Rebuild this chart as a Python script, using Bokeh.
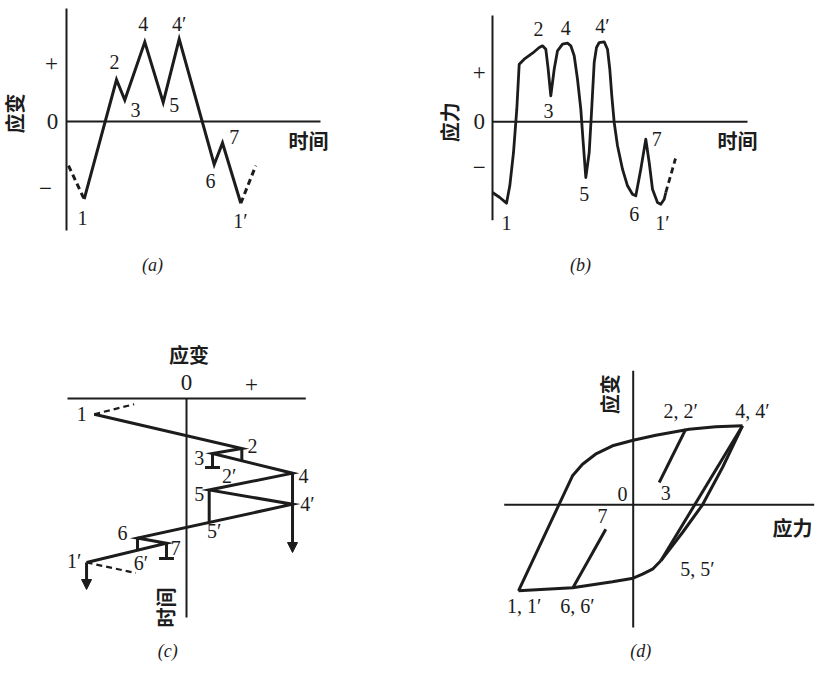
import math
from bokeh.plotting import figure
from bokeh.layouts import column, row
from bokeh.models import Range1d, Arrow, NormalHead
from bokeh.core.properties import value
from bokeh.embed import file_html
from bokeh.resources import INLINE

INK = "#1c1c1c"
SERIF = "Liberation Serif"
CJK = "Noto Sans CJK SC"

# ---------------- (a) strain - time history ----------------
A_TIME = [1.77, 5.0, 5.83, 7.83, 9.67, 11.27, 14.77, 15.6, 17.43]
A_STRAIN = [-1.34, 0.72, 0.37, 1.37, 0.33, 1.42, -0.74, -0.37, -1.41]
A_DASH1_T, A_DASH1_S = [0.2, 1.77], [-0.76, -1.34]
A_DASH2_T, A_DASH2_S = [17.43, 18.93], [-1.41, -0.76]
A_PT_LABELS = ["1", "2", "3", "4", "5", "4′", "6", "7", "1′"]
A_PT_T = [1.6, 4.8, 6.9, 7.67, 10.77, 11.27, 14.4, 16.77, 17.4]
A_PT_S = [-1.66, 1.02, 0.19, 1.68, 0.28, 1.68, -1.02, -0.26, -1.71]
A_TICKS = ["+", "0", "−"]
A_TICK_T = [-1.5, -1.4, -2.1]
A_TICK_S = [1.0, 0.0, -1.16]

# ---------------- (b) stress - time history ----------------
B_TIME = [0, 0.73, 1.4, 1.73, 2.1, 2.43, 2.67, 3.17, 4.0, 4.67, 5.0, 5.33, 5.55,
          5.83, 6.17, 6.5, 7.0, 7.5, 7.83, 8.17, 8.5, 8.83, 9.07, 9.33, 9.67, 9.9,
          10.17, 10.4, 10.67, 11.17, 11.5, 11.73, 11.93, 12.17, 12.5, 13.0, 13.5,
          14.0, 14.33, 14.83, 15.33, 15.67, 16.0, 16.5, 16.83, 17.17, 17.33]
B_STRESS = [-1.443, -1.545, -1.661, -1.306, -0.627, 0.257, 1.176, 1.278, 1.4,
            1.516, 1.551, 1.482, 1.108, 0.531, 1.073, 1.449, 1.584, 1.604, 1.551,
            1.347, 0.869, 0.257, -0.422, -1.137, -0.627, 0.19, 1.21, 1.516, 1.618,
            1.633, 1.482, 1.073, 0.531, -0.014, -0.49, -0.967, -1.306, -1.478,
            -1.51, -0.967, -0.355, -0.831, -1.376, -1.647, -1.682, -1.58, -1.443]
B_DASH_T, B_DASH_S = [17.33, 18.3], [-1.443, -0.749]
B_PT_LABELS = ["1", "2", "3", "4", "5", "4′", "6", "7", "1′"]
B_PT_T = [1.4, 4.6, 5.6, 7.33, 9.17, 11.0, 14.17, 16.43, 17.0]
B_PT_S = [-2.06, 1.89, 0.22, 1.92, -1.48, 1.96, -1.89, -0.36, -2.06]
B_TICKS = ["+", "0", "−"]
B_TICK_T = [-1.33, -1.33, -1.33]
B_TICK_S = [1.0, 0.0, -0.93]

# ---------------- (c) rainflow (strain across, time downward) ----------------
C_STRAIN = [-1.42, 0.851, 0.40, 1.631, 0.349, 1.631, -0.754, -0.308, -1.538]
C_TIME = [1.57, 5.0, 5.5, 7.47, 9.15, 10.57, 13.95, 14.47, 16.4]
C_DASH1_E, C_DASH1_T = [-1.42, -0.805], [1.57, 0.57]
C_DASH2_E, C_DASH2_T = [-1.538, -0.78], [16.4, 17.45]
# rain drops: (strain, time start, time end)
C_DROP_E = [0.851, 0.349, -0.754]
C_DROP_T0 = [5.0, 9.15, 13.95]
C_DROP_T1 = [6.2, 12.4, 15.2]
# stopped drops (⊥)
C_STOP_E = [0.40, -0.308]
C_STOP_T0 = [5.5, 14.47]
C_STOP_T1 = [6.9, 16.0]
# drops running off to the end
C_RUN_E = [1.631, -1.538]
C_RUN_T0 = [7.47, 16.4]
C_RUN_T1 = [15.4, 19.1]
C_PT_LABELS = ["1", "2", "3", "2′", "4", "4′", "5", "5′", "6", "7", "1′", "6′"]
C_PT_E = [-1.61, 1.015, 0.195, 0.657, 1.80, 1.86, 0.195, 0.426, -0.985, -0.165, -1.728, -0.703]
C_PT_T = [1.57, 4.73, 5.9, 7.73, 7.73, 10.57, 9.57, 13.23, 13.4, 14.9, 16.23, 16.4]
C_TICKS = ["0", "+"]
C_TICK_E = [0.0, 1.0]
C_TICK_T = [-1.6, -1.43]

# ---------------- (d) stress - strain loops ----------------
D_UP_S = [-11.47, -6.07, -5.07, -3.77, -2.07, 0.0, 2.26, 5.6, 8.26, 10.93]
D_UP_E = [-8.6, 2.9, 4.06, 5.06, 5.9, 6.46, 6.96, 7.56, 7.8, 7.9]
D_DOWN_S = [10.93, 2.76]
D_DOWN_E = [7.9, -5.6]
D_RELOAD_S = [2.76, 4.93, 6.93, 8.93, 10.93]
D_RELOAD_E = [-5.6, -2.77, 0.0, 3.73, 7.9]
D_LOW_S = [2.76, 1.93, 0.93, 0.0, -2.07, -6.07, -11.47]
D_LOW_E = [-5.6, -6.44, -6.94, -7.34, -7.7, -8.3, -8.6]
D_SMALL1_S, D_SMALL1_E = [5.26, 2.6], [7.56, 2.23]
D_SMALL2_S, D_SMALL2_E = [-6.07, -2.74], [-8.37, -2.44]
D_PT_LABELS = ["2, 2′", "4, 4′", "3", "0", "7", "5, 5′", "1, 1′", "6, 6′"]
D_PT_S = [4.76, 11.93, 3.26, -1.07, -3.07, 6.43, -10.9, -5.57]
D_PT_E = [9.4, 9.4, 1.23, 1.06, -1.1, -6.44, -10.1, -10.1]


def make_fig(w, h, xr, yr):
    p = figure(width=w, height=h, x_range=Range1d(*xr), y_range=Range1d(*yr),
               toolbar_location=None, output_backend="svg", min_border=0,
               x_axis_location=None, y_axis_location=None)
    p.xgrid.visible = False
    p.ygrid.visible = False
    p.outline_line_color = None
    p.background_fill_color = "#ffffff"
    p.border_fill_color = "#ffffff"
    return p


def txt(p, xs, ys, texts, size=20, font=SERIF, style="normal", angle=0.0):
    p.text(x=xs, y=ys, text=texts, text_font=value(font), text_font_size=f"{size}px",
           text_font_style=style, text_align="center", text_baseline="middle",
           text_color=INK, angle=angle)


LW = 3.0
AW = 2.0
TICK = 23
CJK_SIZE = 20
CAP = 18

# ---- (a)
pa = make_fig(412, 292, (-6.6, 34.6), (-2.948, 2.086))
pa.line([0, 0], [1.95, -1.88], line_color=INK, line_width=AW)
pa.line([0, 25.4], [0, 0], line_color=INK, line_width=AW)
pa.line(A_TIME, A_STRAIN, line_color=INK, line_width=LW, line_join="miter")
pa.line(A_DASH1_T, A_DASH1_S, line_color=INK, line_width=LW, line_dash="6 4")
pa.line(A_DASH2_T, A_DASH2_S, line_color=INK, line_width=LW, line_dash="6 4")
txt(pa, A_PT_T, A_PT_S, A_PT_LABELS)
txt(pa, A_TICK_T, A_TICK_S, A_TICKS, size=TICK)
txt(pa, [24.2], [-0.33], ["时间"], size=CJK_SIZE, font=CJK, style="bold")
txt(pa, [-5.2], [0.14], ["应变"], size=CJK_SIZE, font=CJK, style="bold", angle=math.pi / 2)
txt(pa, [8.6], [-2.47], ["(a)"], size=CAP, style="italic")

# ---- (b)
pb = make_fig(412, 292, (-8.0, 33.2), (-3.484, 2.476))
pb.line([0, 0], [2.17, -2.01], line_color=INK, line_width=AW)
pb.line([0, 25.5], [0, 0], line_color=INK, line_width=AW)
pb.line(B_TIME, B_STRESS, line_color=INK, line_width=2.8, line_join="round")
pb.line(B_DASH_T, B_DASH_S, line_color=INK, line_width=2.8, line_dash="6 4")
txt(pb, B_PT_T, B_PT_S, B_PT_LABELS)
txt(pb, B_TICK_T, B_TICK_S, B_TICKS, size=TICK)
txt(pb, [24.5], [-0.38], ["时间"], size=CJK_SIZE, font=CJK, style="bold")
txt(pb, [-4.33], [-0.01], ["应力"], size=CJK_SIZE, font=CJK, style="bold", angle=math.pi / 2)
txt(pb, [8.8], [-2.93], ["(b)"], size=CAP, style="italic")

# ---- (c)
pc = make_fig(412, 379, (-2.862, 3.477), (27.3, -10.6))
pc.line([-1.831, 1.835], [0, 0], line_color=INK, line_width=AW)
pc.line([0, 0], [0, 21.9], line_color=INK, line_width=AW)
pc.line(C_STRAIN, C_TIME, line_color=INK, line_width=LW, line_join="miter")
pc.line(C_DASH1_E, C_DASH1_T, line_color=INK, line_width=2.2, line_dash="6 4")
pc.line(C_DASH2_E, C_DASH2_T, line_color=INK, line_width=2.2, line_dash="6 4")
pc.segment(x0=C_DROP_E, y0=C_DROP_T0, x1=C_DROP_E, y1=C_DROP_T1, line_color=INK, line_width=LW)
pc.segment(x0=C_STOP_E, y0=C_STOP_T0, x1=C_STOP_E, y1=C_STOP_T1, line_color=INK, line_width=LW)
pc.segment(x0=[e - 0.115 for e in C_STOP_E], y0=C_STOP_T1,
           x1=[e + 0.115 for e in C_STOP_E], y1=C_STOP_T1, line_color=INK, line_width=LW)
for e, t0, t1 in zip(C_RUN_E, C_RUN_T0, C_RUN_T1):
    pc.add_layout(Arrow(end=NormalHead(size=10, fill_color=INK, line_color=INK),
                        x_start=e, y_start=t0, x_end=e, y_end=t1,
                        line_color=INK, line_width=LW))
txt(pc, C_PT_E, C_PT_T, C_PT_LABELS)
txt(pc, C_TICK_E, C_TICK_T, C_TICKS, size=TICK)
txt(pc, [0.04], [-4.43], ["应变"], size=CJK_SIZE, font=CJK, style="bold")
txt(pc, [-0.318], [20.9], ["时间"], size=CJK_SIZE, font=CJK, style="bold", angle=math.pi / 2)
txt(pc, [-0.29], [25.2], ["(c)"], size=CAP, style="italic")

# ---- (d)
pd_ = make_fig(412, 379, (-22.07, 19.13), (-16.67, 21.23))
pd_.line([-12.9, 18.1], [0, 0], line_color=INK, line_width=AW)
pd_.line([0, 0], [13.4, -12.27], line_color=INK, line_width=AW)
pd_.line(D_UP_S, D_UP_E, line_color=INK, line_width=LW, line_join="round")
pd_.line(D_DOWN_S, D_DOWN_E, line_color=INK, line_width=LW)
pd_.line(D_RELOAD_S, D_RELOAD_E, line_color=INK, line_width=LW, line_join="round")
pd_.line(D_LOW_S, D_LOW_E, line_color=INK, line_width=LW, line_join="round")
pd_.line(D_SMALL1_S, D_SMALL1_E, line_color=INK, line_width=LW)
pd_.line(D_SMALL2_S, D_SMALL2_E, line_color=INK, line_width=LW)
txt(pd_, D_PT_S, D_PT_E, D_PT_LABELS)
txt(pd_, [15.93], [-2.27], ["应力"], size=CJK_SIZE, font=CJK, style="bold")
txt(pd_, [-2.4], [11.06], ["应变"], size=CJK_SIZE, font=CJK, style="bold", angle=math.pi / 2)
txt(pd_, [0.76], [-14.6], ["(d)"], size=CAP, style="italic")

layout = column(row(pa, pb), row(pc, pd_))
open("out.html", "w").write(file_html(layout, INLINE))
